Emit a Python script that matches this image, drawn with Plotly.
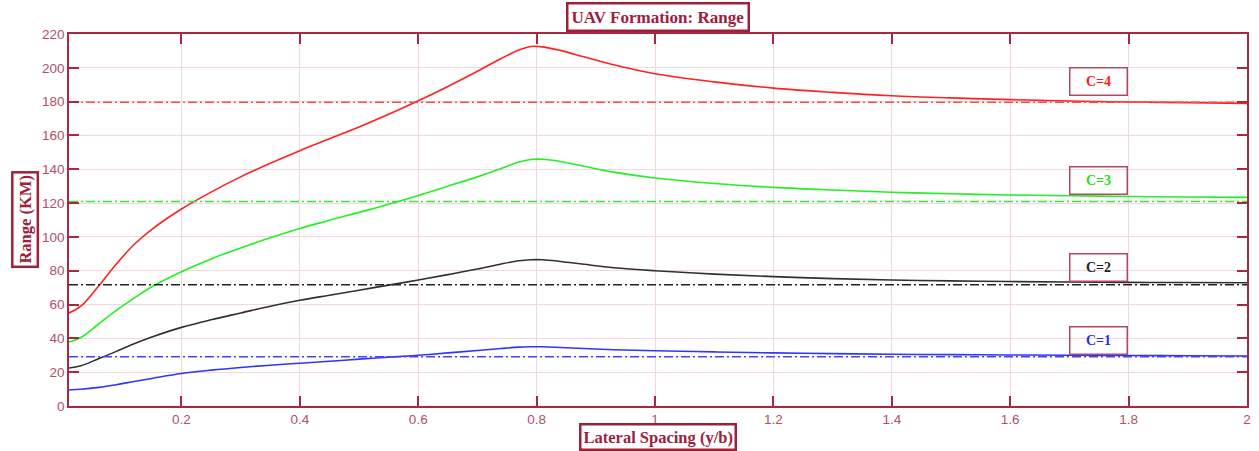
import plotly.graph_objects as go

# ---- data ----
x_vals = [0.01, 0.03, 0.06, 0.09, 0.12, 0.15, 0.2, 0.25, 0.3, 0.35, 0.4, 0.45, 0.5, 0.55,
          0.6, 0.65, 0.7, 0.74, 0.77, 0.79, 0.81, 0.84, 0.88, 0.93, 1.0, 1.1, 1.2, 1.3,
          1.4, 1.5, 1.6, 1.7, 1.8, 1.9, 2.0]
range_c4 = [55, 59, 71, 84, 95.5, 104.5, 116.5, 126.5, 135.5, 143.5, 151, 158, 165, 172.5,
            180.5, 189, 198, 205.5, 210.5, 212.6, 212.4, 210.3, 206.5, 201.8, 196.5, 191.7, 188, 185.5,
            183.5, 182.2, 181.2, 180.4, 179.8, 179.4, 179]
range_c3 = [37.8, 40.5, 48.5, 56.5, 63.8, 70.5, 79.4, 87, 93.5, 99.5, 105, 109.8, 114.5, 119.3,
            124.5, 130, 135.5, 140.5, 144.3, 145.8, 145.9, 144.6, 141.8, 138.3, 134.8, 131.6, 129.3, 127.7,
            126.4, 125.5, 124.8, 124.3, 123.9, 123.6, 123.4]
range_c2 = [22.5, 23.8, 28, 32.3, 36.8, 40.8, 46.5, 51, 55, 59, 62.5, 65.5, 68.5, 71.5,
            74.5, 77.7, 81, 84, 85.9, 86.5, 86.5, 85.5, 83.8, 81.8, 80, 78, 76.5, 75.3,
            74.5, 74, 73.6, 73.3, 73.1, 73, 72.9]
range_c1 = [9.5, 9.9, 11, 12.6, 14.5, 16.3, 19.2, 21.2, 22.8, 24.1, 25.3, 26.5, 27.7, 28.9,
            30, 31.4, 32.8, 34, 34.8, 35, 35, 34.6, 34, 33.3, 32.7, 32, 31.4, 31,
            30.6, 30.4, 30.2, 30, 29.9, 29.7, 29.6]
ref_levels = [179.6, 121.0, 71.7, 29.2]   # C=4, C=3, C=2, C=1 dash-dot references
labels = ["C=4", "C=3", "C=2", "C=1"]
label_y = [192.2, 133.6, 82.2, 39.0]
x_ticks = [0.2, 0.4, 0.6, 0.8, 1, 1.2, 1.4, 1.6, 1.8, 2]
y_ticks = [0, 20, 40, 60, 80, 100, 120, 140, 160, 180, 200, 220]

solid_colors = ["#FF2020", "#22F022", "#303030", "#3333FF"]
dash_colors = ["#FF4A4A", "#33E833", "#222222", "#4444FF"]
text_colors = ["#FF1A1A", "#22E022", "#222222", "#2E2EEE"]

AX = "#A8283F"
TICKC = "#B0506A"
GRID = "#F3D7DE"

fig = go.Figure()
series = [range_c4, range_c3, range_c2, range_c1]
for i, s in enumerate(series):
    fig.add_trace(go.Scatter(x=x_vals, y=s, mode="lines",
                             line=dict(color=solid_colors[i], width=1.6, shape="spline", smoothing=1.0),
                             showlegend=False, hoverinfo="skip"))
    fig.add_trace(go.Scatter(x=[x_vals[0], x_vals[-1]], y=[ref_levels[i], ref_levels[i]], mode="lines",
                             line=dict(color=dash_colors[i], width=1.5, dash="9px,3px,2px,3px"),
                             showlegend=False, hoverinfo="skip"))

ann = []
for i, lab in enumerate(labels):
    ann.append(dict(x=1.749, y=label_y[i], xref="x", yref="y", text="<b>%s</b>" % lab,
                    showarrow=False, font=dict(family="Liberation Serif", size=14, color=text_colors[i]),
                    bordercolor="#B04A62", borderwidth=1.5, borderpad=3, width=50, height=20,
                    bgcolor="rgba(255,255,255,0)"))

ann.append(dict(x=0.5, y=1.045, xref="paper", yref="paper", text="<b>UAV Formation: Range</b>",
                showarrow=False, font=dict(family="Liberation Serif", size=17, color="#A0203A"),
                bordercolor="#A0203A", borderwidth=2.5, borderpad=3, bgcolor="white",
                xanchor="center", yanchor="middle"))
ann.append(dict(x=0.5, y=-0.083, xref="paper", yref="paper", text="<b>Lateral Spacing (y/b)</b>",
                showarrow=False, font=dict(family="Liberation Serif", size=16.5, color="#A0203A"),
                bordercolor="#A0203A", borderwidth=2.5, borderpad=2, bgcolor="white",
                xanchor="center", yanchor="middle"))
ann.append(dict(x=-0.0373, y=0.5, xref="paper", yref="paper", text="<b>Range (KM)</b>",
                showarrow=False, textangle=-90, font=dict(family="Liberation Serif", size=16.5, color="#A0203A"),
                bordercolor="#A0203A", borderwidth=2.5, borderpad=2, bgcolor="white",
                xanchor="center", yanchor="middle"))

axis_common = dict(showline=True, linecolor=AX, linewidth=1.5, mirror="ticks",
                   ticks="inside", ticklen=10, tickwidth=1.5, tickcolor=AX,
                   showgrid=True, gridcolor=GRID, gridwidth=1, zeroline=False,
                   tickfont=dict(family="Liberation Sans", size=13.5, color=TICKC))

fig.update_layout(
    width=1259, height=451,
    margin=dict(l=69, r=8, t=34, b=45),
    paper_bgcolor="white", plot_bgcolor="white",
    xaxis=dict(range=[0.01, 2.0], tickvals=x_ticks, ticktext=[str(v) for v in x_ticks], **axis_common),
    yaxis=dict(range=[0, 220], tickvals=y_ticks, **axis_common),
    annotations=ann,
)

fig.write_html("out.html")
